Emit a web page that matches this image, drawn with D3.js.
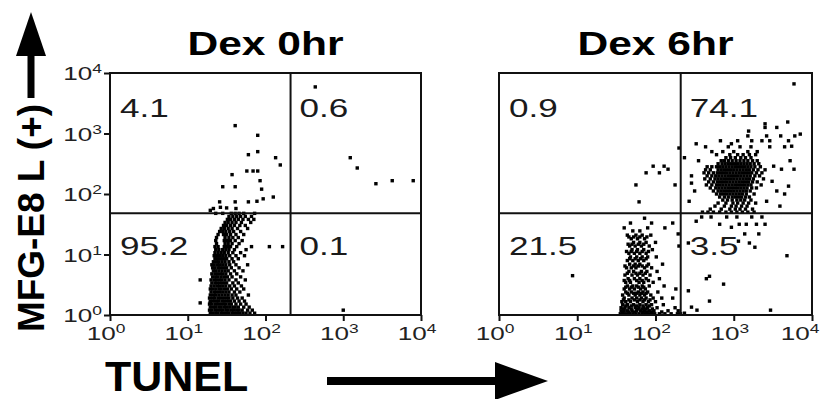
<!DOCTYPE html>
<html>
<head>
<meta charset="utf-8">
<script src="https://cdn.jsdelivr.net/npm/d3@7"></script>
<style>
  body { margin: 0; background: #fff; }
  text { font-family: "Liberation Sans", Arial, Helvetica, sans-serif; }
</style>
</head>
<body>
<svg id="chart" width="822" height="399"></svg>
<script>
// values; point coordinates are log10 decades [TUNEL, MFG-E8]
const titles = ['Dex 0hr', 'Dex 6hr'];
const tickExponents = [0, 1, 2, 3, 4];
const gateX = 210;   // TUNEL gate
const gateY = 48;    // MFG-E8 gate
const dex0Labels = ['4.1', '0.6', '95.2', '0.1'];   // UL, UR, LL, LR
const dex6Labels = ['0.9', '74.1', '21.5', '3.5'];

// dense region of Dex 0hr, row by row: [y, [x...]]
const dex0Rows = [
  [0.03, [1.29, 1.32, 1.36, 1.39, 1.43, 1.46, 1.50, 1.53, 1.57, 1.60, 1.64, 1.67, 1.71, 1.75, 1.80, 1.86]],
  [0.08, [1.28, 1.31, 1.35, 1.38, 1.42, 1.45, 1.49, 1.52, 1.56, 1.59, 1.63, 1.66, 1.70, 1.77, 1.83]],
  [0.13, [1.29, 1.33, 1.36, 1.40, 1.43, 1.47, 1.50, 1.54, 1.58, 1.61, 1.65, 1.72, 1.79]],
  [0.18, [1.28, 1.31, 1.35, 1.38, 1.42, 1.46, 1.49, 1.53, 1.56, 1.62, 1.68, 1.75]],
  [0.23, [1.29, 1.33, 1.37, 1.40, 1.44, 1.47, 1.51, 1.55, 1.60, 1.66, 1.73]],
  [0.28, [1.28, 1.32, 1.35, 1.39, 1.42, 1.46, 1.50, 1.53, 1.58, 1.64, 1.70]],
  [0.33, [1.29, 1.33, 1.36, 1.40, 1.44, 1.48, 1.52, 1.57, 1.62, 1.78]],
  [0.38, [1.30, 1.34, 1.37, 1.41, 1.45, 1.49, 1.53, 1.60, 1.67]],
  [0.43, [1.29, 1.32, 1.36, 1.40, 1.43, 1.47, 1.51, 1.56, 1.63, 1.72]],
  [0.48, [1.30, 1.34, 1.38, 1.41, 1.45, 1.49, 1.54, 1.60, 1.69]],
  [0.53, [1.31, 1.35, 1.38, 1.42, 1.46, 1.50, 1.58, 1.65]],
  [0.58, [1.16, 1.30, 1.34, 1.37, 1.41, 1.44, 1.48, 1.53, 1.62, 1.74]],
  [0.63, [1.32, 1.36, 1.39, 1.43, 1.47, 1.51, 1.57, 1.68]],
  [0.68, [1.31, 1.35, 1.38, 1.42, 1.45, 1.49, 1.55, 1.63]],
  [0.73, [1.33, 1.36, 1.40, 1.44, 1.48, 1.52, 1.60, 1.71]],
  [0.78, [1.32, 1.35, 1.39, 1.42, 1.46, 1.50, 1.56, 1.66]],
  [0.83, [1.31, 1.34, 1.38, 1.41, 1.45, 1.49, 1.54, 1.62, 1.77]],
  [0.88, [1.33, 1.37, 1.40, 1.44, 1.48, 1.53, 1.59]],
  [0.93, [1.35, 1.38, 1.42, 1.46, 1.50, 1.57, 1.65]],
  [0.98, [1.34, 1.37, 1.41, 1.45, 1.49, 1.54, 1.62, 1.73]],
  [1.03, [1.35, 1.39, 1.43, 1.47, 1.52, 1.58, 1.68]],
  [1.08, [1.36, 1.40, 1.45, 1.49, 1.53, 1.60, 1.75]],
  [1.13, [1.35, 1.39, 1.47, 1.51, 1.55, 1.63, 1.82, 2.05, 2.22]],
  [1.18, [1.37, 1.48, 1.52, 1.57, 1.66]],
  [1.23, [1.36, 1.47, 1.51, 1.55, 1.61, 1.70]],
  [1.28, [1.37, 1.48, 1.53, 1.58, 1.65]],
  [1.33, [1.39, 1.46, 1.50, 1.55, 1.62, 1.72]],
  [1.38, [1.41, 1.45, 1.49, 1.54, 1.59, 1.68]],
  [1.43, [1.43, 1.47, 1.52, 1.57, 1.64, 1.77]],
  [1.48, [1.46, 1.50, 1.55, 1.60, 1.67, 1.74]],
  [1.53, [1.48, 1.52, 1.57, 1.62, 1.69, 1.81]],
  [1.58, [1.51, 1.55, 1.60, 1.65, 1.71, 1.78, 1.85]],
  [1.63, [1.53, 1.58, 1.63, 1.68, 1.74, 1.82]],
  [1.68, [1.36, 1.45, 1.56, 1.61, 1.66, 1.72, 1.86]]
];

const dex0Sparse = [
  [1.61, 3.13], [1.90, 2.97], [1.78, 2.65], [1.90, 2.70], [2.13, 2.60], [2.19, 2.48],
  [1.57, 2.32], [1.76, 2.38], [1.84, 2.38], [1.90, 2.38], [1.93, 2.22], [1.45, 2.12],
  [1.61, 2.12], [1.95, 2.08], [1.97, 1.92], [2.10, 1.95], [1.41, 1.87], [1.61, 1.87],
  [1.78, 1.87], [1.89, 1.88], [1.29, 1.73], [1.33, 1.76], [1.42, 1.78], [1.50, 1.77],
  [1.62, 1.76], [2.64, 3.77], [3.09, 2.60], [3.18, 2.43], [3.42, 2.17], [3.63, 2.22],
  [3.90, 2.22], [3.00, 0.08], [1.16, 0.20], [1.29, 0.20]
];

const dex6Rows = [
  // TUNEL-low population
  [0.02, [1.55, 1.59, 1.63, 1.67, 1.71, 1.75, 1.79, 1.83, 1.87, 1.91, 1.95, 1.99, 2.05, 2.12, 2.20, 2.28, 2.32]],
  [0.05, [1.58, 1.66, 1.73, 1.84, 1.89, 1.95, 2.08]],
  [0.07, [1.56, 1.60, 1.64, 1.70, 1.76, 1.81, 1.86, 1.92, 1.98, 2.16]],
  [0.10, [1.59, 1.69, 1.77, 1.83, 1.88, 1.96]],
  [0.12, [1.56, 1.61, 1.66, 1.74, 1.79, 1.85, 1.90, 2.02, 2.25]],
  [0.15, [1.62, 1.69, 1.76, 1.84, 1.92]],
  [0.17, [1.58, 1.64, 1.72, 1.80, 1.88, 1.95, 2.10]],
  [0.22, [1.57, 1.62, 1.68, 1.77, 1.84, 1.91, 2.00]],
  [0.25, [1.59, 1.66, 1.73, 1.80, 1.86, 1.93]],
  [0.28, [1.60, 1.70, 1.76, 1.82, 1.88, 1.97, 2.08, 2.22]],
  [0.33, [1.58, 1.66, 1.74, 1.80, 1.86, 1.94]],
  [0.36, [1.64, 1.72, 1.76, 1.82, 1.88]],
  [0.38, [1.62, 1.69, 1.78, 1.84, 1.90, 2.03]],
  [0.43, [1.60, 1.67, 1.73, 1.81, 1.87, 2.26]],
  [0.46, [1.62, 1.69, 1.78, 1.85]],
  [0.48, [1.64, 1.71, 1.76, 1.83, 1.92, 2.11]],
  [0.54, [1.62, 1.68, 1.79, 1.85, 1.97]],
  [0.57, [1.60, 1.67, 1.76, 1.83, 1.91]],
  [0.60, [1.65, 1.73, 1.80, 1.88, 2.05]],
  [0.66, [1.61, 1.70, 1.77, 1.84, 1.93]],
  [0.69, [1.64, 1.75, 1.80, 1.87]],
  [0.72, [1.66, 1.72, 1.82, 1.89, 2.02]],
  [0.78, [1.63, 1.69, 1.75, 1.86, 1.95]],
  [0.81, [1.61, 1.72, 1.78, 1.83, 1.89]],
  [0.84, [1.67, 1.74, 1.80, 1.91, 2.09]],
  [0.90, [1.64, 1.71, 1.78, 1.85]],
  [0.93, [1.67, 1.74, 1.81, 1.88]],
  [0.96, [1.68, 1.76, 1.83, 1.90, 2.01]],
  [1.02, [1.66, 1.73, 1.80, 1.88]],
  [1.05, [1.63, 1.69, 1.76, 1.83, 1.91]],
  [1.08, [1.70, 1.77, 1.85, 1.96]],
  [1.14, [1.67, 1.74, 1.82, 1.92]],
  [1.17, [1.65, 1.70, 1.78, 1.85]],
  [1.20, [1.72, 1.80, 1.88, 2.00]],
  [1.26, [1.69, 1.77, 1.86]],
  [1.29, [1.66, 1.72, 1.80, 1.89]],
  [1.32, [1.64, 1.75, 1.83, 1.94]],
  [1.39, [1.71, 1.80]],
  [1.44, [1.60, 1.90, 2.12]],
  [1.52, [1.68, 1.95, 2.22]],
  [1.60, [1.86]],
  // double positive population
  [1.62, [2.59, 2.71, 2.91, 3.04, 3.23, 3.36]],
  [1.70, [2.60, 2.67, 2.74, 2.82, 2.90, 2.97, 3.04, 3.11, 3.18, 3.26]],
  [1.75, [2.70, 2.84, 2.95, 3.02, 3.08, 3.15, 3.24]],
  [1.80, [2.76, 2.88, 2.97, 3.03, 3.10, 3.17]],
  [1.85, [2.80, 2.90, 2.99, 3.05, 3.12, 3.19, 3.28]],
  [1.90, [2.86, 2.92, 2.98, 3.04, 3.09, 3.14, 3.22]],
  [1.95, [2.82, 2.88, 2.93, 2.98, 3.02, 3.06, 3.10, 3.15, 3.20]],
  [2.00, [2.78, 2.83, 2.87, 2.91, 2.95, 2.99, 3.03, 3.07, 3.11, 3.16, 3.26]],
  [2.05, [2.74, 2.80, 2.84, 2.88, 2.92, 2.96, 3.00, 3.04, 3.08, 3.12, 3.16, 3.21]],
  [2.10, [2.70, 2.77, 2.81, 2.85, 2.89, 2.93, 2.97, 3.01, 3.05, 3.09, 3.13, 3.17, 3.23, 3.29]],
  [2.15, [2.65, 2.72, 2.78, 2.82, 2.86, 2.90, 2.94, 2.98, 3.02, 3.06, 3.10, 3.14, 3.18, 3.22, 3.35]],
  [2.20, [2.68, 2.74, 2.79, 2.83, 2.87, 2.91, 2.95, 2.99, 3.03, 3.07, 3.11, 3.15, 3.19, 3.24, 3.30]],
  [2.25, [2.63, 2.70, 2.76, 2.80, 2.84, 2.88, 2.92, 2.96, 3.00, 3.04, 3.08, 3.12, 3.16, 3.20, 3.25, 3.38]],
  [2.30, [2.66, 2.72, 2.77, 2.81, 2.85, 2.89, 2.93, 2.97, 3.01, 3.05, 3.09, 3.13, 3.17, 3.21, 3.27, 3.33]],
  [2.35, [2.62, 2.68, 2.74, 2.79, 2.83, 2.87, 2.91, 2.95, 2.99, 3.03, 3.07, 3.11, 3.15, 3.19, 3.23, 3.29, 3.36]],
  [2.40, [2.64, 2.70, 2.80, 2.84, 2.88, 2.92, 2.96, 3.00, 3.04, 3.08, 3.12, 3.16, 3.20, 3.25, 3.31, 3.40]],
  [2.45, [2.66, 2.72, 2.78, 2.82, 2.86, 2.90, 2.94, 2.98, 3.02, 3.06, 3.10, 3.14, 3.18, 3.22, 3.27, 3.34]],
  [2.50, [2.80, 2.85, 2.89, 2.93, 2.97, 3.01, 3.05, 3.09, 3.13, 3.17, 3.21, 3.26, 3.32]],
  [2.55, [2.84, 2.88, 2.93, 2.98, 3.03, 3.08, 3.13, 3.18, 3.24, 3.30]],
  [2.60, [2.90, 2.96, 3.02, 3.09, 3.15, 3.22]],
  [2.65, [2.78, 2.95, 3.05, 3.12, 3.20, 3.28]],
  [2.70, [2.72, 2.86, 3.00, 3.18, 3.30]],
  [2.78, [2.64, 2.93, 3.08, 3.22, 3.46]],
  [2.88, [2.83, 3.05, 3.36]],
  [2.96, [3.18, 3.42, 3.60]],
  [3.10, [3.40, 3.55]]
];

const dex6Sparse = [
  [3.69, 3.19], [3.78, 2.96], [3.85, 2.99], [3.70, 2.88], [3.74, 2.79], [3.65, 2.78],
  [3.72, 2.55], [3.77, 2.41], [3.61, 2.41], [3.70, 2.13], [3.65, 2.00], [3.77, 3.82],
  [3.40, 3.16], [3.19, 3.04], [3.46, 2.88], [3.23, 2.88], [2.52, 2.83], [2.97, 2.83],
  [2.46, 2.30], [2.50, 2.05], [2.43, 1.88], [2.55, 2.55], [2.46, 2.18],
  [3.49, 2.21], [3.55, 2.05], [3.42, 1.88], [3.51, 2.46], [3.59, 1.80],
  [2.52, 1.55], [2.82, 1.50], [3.07, 1.50], [3.16, 1.50], [3.29, 1.50], [3.40, 1.50],
  [3.14, 1.34], [3.32, 1.34], [2.42, 1.19], [3.20, 1.19], [3.27, 1.12], [3.06, 1.22],
  [3.68, 0.98], [2.69, 0.64], [2.65, 0.60], [2.87, 0.51], [2.42, 0.40], [2.69, 0.23],
  [2.46, 0.13], [2.53, 0.08], [3.47, 0.08], [2.37, 0.03], [2.97, 1.45],
  [2.30, 2.76], [2.37, 2.60], [2.29, 1.34], [2.30, 1.14], [2.29, 0.07],
  [0.94, 0.65], [1.97, 2.46], [2.11, 2.46], [2.16, 2.41], [1.88, 2.35], [2.05, 2.35],
  [1.75, 2.15], [2.25, 2.15], [1.79, 1.87]
];

const expand = rows => rows.flatMap(([y, xs]) => xs.map(x => [x, y]));

const svg = d3.select('#chart');

function powerLabel(parent, x, y, e, anchor) {
  const t = parent.append('text')
    .attr('transform', `translate(${x},${y}) scale(1.45,1)`)
    .attr('text-anchor', anchor)
    .attr('font-size', 18)
    .attr('fill', '#222');
  t.append('tspan').text('10');
  t.append('tspan').attr('font-size', 12).attr('dy', -7).text(e);
}

function drawPanel(opts) {
  const x = d3.scaleLog().domain([1, 1e4]).range([opts.left, opts.right]);
  const y = d3.scaleLog().domain([1, 1e4]).range([315, 73]);
  const g = svg.append('g');

  // title
  g.append('text')
    .attr('x', (opts.left + opts.right) / 2)
    .attr('y', 55)
    .attr('text-anchor', 'middle')
    .attr('font-size', 33)
    .attr('font-weight', 'bold')
    .attr('textLength', 156)
    .attr('lengthAdjust', 'spacingAndGlyphs')
    .text(opts.title);

  // events
  g.append('g').selectAll('rect')
    .data(opts.points)
    .enter()
    .append('rect')
    .attr('x', d => x(10 ** d[0]) - 1.7)
    .attr('y', d => y(10 ** d[1]) - 1.7)
    .attr('width', 3.4)
    .attr('height', 3.4)
    .attr('fill', '#000');

  // frame and quadrant gates
  g.append('rect')
    .attr('x', opts.left).attr('y', 73)
    .attr('width', opts.right - opts.left).attr('height', 315 - 73)
    .attr('fill', 'none').attr('stroke', '#111').attr('stroke-width', 2);
  g.append('line')
    .attr('x1', x(gateX)).attr('x2', x(gateX)).attr('y1', 73).attr('y2', 315)
    .attr('stroke', '#111').attr('stroke-width', 2);
  g.append('line')
    .attr('x1', opts.left).attr('x2', opts.right).attr('y1', y(gateY)).attr('y2', y(gateY))
    .attr('stroke', '#111').attr('stroke-width', 2);

  // axes
  const ticks = tickExponents.map(e => 10 ** e);
  const xAxis = g.append('g')
    .attr('transform', 'translate(0,315)')
    .call(d3.axisBottom(x).tickValues(ticks).tickSize(6).tickFormat(''));
  xAxis.select('.domain').remove();
  xAxis.selectAll('line').attr('stroke', '#111').attr('stroke-width', 2);
  tickExponents.forEach(e => powerLabel(g, Math.min(x(10 ** e) - 4, 800), 340, e, 'middle'));

  if (opts.yAxis) {
    const yAxis = g.append('g')
      .attr('transform', `translate(${opts.left},0)`)
      .call(d3.axisLeft(y).tickValues(ticks).tickSize(6).tickFormat(''));
    yAxis.select('.domain').remove();
    yAxis.selectAll('line').attr('stroke', '#111').attr('stroke-width', 2);
    tickExponents.forEach(e => powerLabel(g, opts.left - 8, y(10 ** e) + 7, e, 'end'));
  }

  // quadrant percentages
  const gx = x(gateX) + 9;
  const spots = [
    [opts.left + 10, 117], [gx, 117],
    [opts.left + 10, 255], [gx, 255]
  ];
  opts.labels.forEach((txt, i) => {
    g.append('text')
      .attr('transform', `translate(${spots[i][0]},${spots[i][1]}) scale(1.35,1)`)
      .attr('font-size', 26)
      .attr('fill', '#1a1a1a')
      .text(txt);
  });
}

drawPanel({ title: titles[0], left: 110, right: 421, yAxis: true, labels: dex0Labels,
  points: expand(dex0Rows).concat(dex0Sparse) });
drawPanel({ title: titles[1], left: 499, right: 812, yAxis: false, labels: dex6Labels,
  points: expand(dex6Rows).concat(dex6Sparse) });

// y axis title with arrow
svg.append('text')
  .attr('transform', 'translate(44,218) rotate(-90)')
  .attr('text-anchor', 'middle')
  .attr('font-size', 36)
  .attr('font-weight', 'bold')
  .attr('textLength', 228)
  .attr('lengthAdjust', 'spacingAndGlyphs')
  .text('MFG-E8 L (+)');
svg.append('rect').attr('x', 27.5).attr('y', 50).attr('width', 7).attr('height', 48).attr('fill', '#000');
svg.append('path').attr('d', 'M31,12 L46,56 L16,56 Z').attr('fill', '#000');

// x axis title with arrow
svg.append('text')
  .attr('x', 105).attr('y', 391)
  .attr('font-size', 43)
  .attr('font-weight', 'bold')
  .text('TUNEL');
svg.append('rect').attr('x', 327).attr('y', 377).attr('width', 172).attr('height', 8).attr('fill', '#000');
svg.append('path').attr('d', 'M548,381 L495,362 L495,400 Z').attr('fill', '#000');
</script>
</body>
</html>
